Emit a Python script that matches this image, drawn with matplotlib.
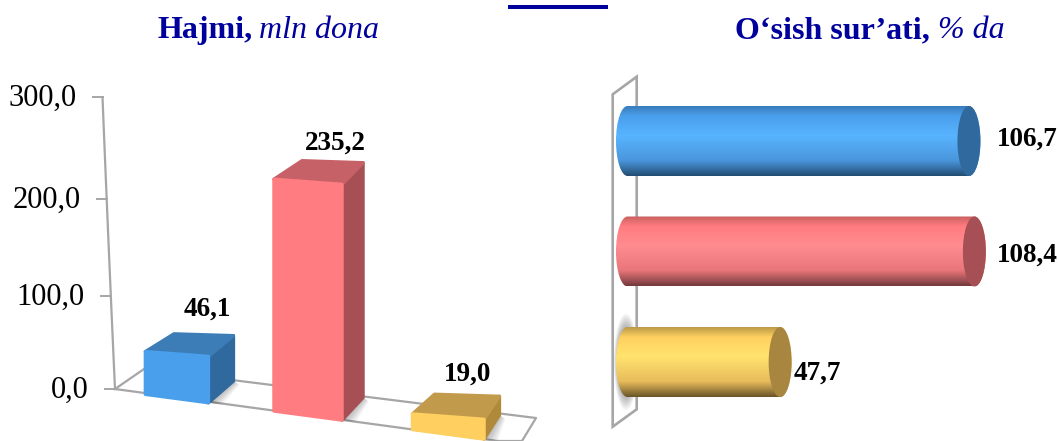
import numpy as np
import matplotlib
matplotlib.use('Agg')
from matplotlib import pyplot as plt
from matplotlib.colors import LinearSegmentedColormap
from matplotlib.patches import Ellipse, PathPatch, Polygon
from matplotlib.path import Path

# Values
volume_values = [46.1, 235.2, 19.0]
volume_labels = ['46,1', '235,2', '19,0']
volume_ticks = [0, 100, 200, 300]
volume_tick_labels = ['0,0', '100,0', '200,0', '300,0']
growth_values = [106.7, 108.4, 47.7]
growth_labels = ['106,7', '108,4', '47,7']

W, H = 1059, 441
SERIF = 'Liberation Serif'
NAVY = '#00009C'
FRAME = '#A6A6A6'

face_colors = ['#4A9FEC', '#FF7C80', '#FFD060']
side_colors = ['#30699E', '#A64F54', '#B08A3A']
top_colors = ['#3C7DB8', '#C66167', '#C29A4C']
tube_stops = [['#3A7DBC', '#4A9FEC', '#58B4FF', '#4A96DC', '#234E73'],
              ['#C9605F', '#FF7C80', '#FF8C90', '#E8767A', '#74393C'],
              ['#BC9A48', '#FFD060', '#FFE36E', '#E8BC5C', '#6A5528']]
end_colors = ['#30699E', '#A64F54', '#A98640']

fig = plt.figure(figsize=(W / 100, H / 100), dpi=100)

# Background layer in pixels: frames, titles, rule
ax0 = fig.add_axes([0, 0, 1, 1])
ax0.set_xlim(0, W)
ax0.set_ylim(H, 0)
ax0.axis('off')

ax0.add_patch(plt.Rectangle((508, 5), 100, 4, fc=NAVY, ec='none'))
ax0.text(157, 38, 'Hajmi,', family=SERIF, size=23, weight='bold', color=NAVY)
ax0.text(259, 38, 'mln dona', family=SERIF, size=23, style='italic', color=NAVY)
ax0.text(735, 38, 'O\u2018sish sur\u2019ati,', family=SERIF, size=23, weight='bold', color=NAVY)
ax0.text(938, 38, '% da', family=SERIF, size=23, style='italic', color=NAVY)

# Left chart: value axis, one unit is one pixel on the front of the bars
ax1 = fig.add_axes([0, 0, 600 / W, 1], zorder=2)
ax1.set_xlim(0, 600)
ax1.set_ylim(-(H - 389), 389)
ax1.axis('off')
ax1.patch.set_alpha(0)


# The wall is further back and in perspective, so its ticks spread out going up
def wall_y(v):
    return 0.908 * v + 2.17e-4 * v ** 2


def wall_x(v):
    return 115 - v * 12.5 / 300


wall = np.linspace(0, 300, 31)
ax1.plot(wall_x(wall), wall_y(wall), c=FRAME, lw=1.6)
for v, lab in zip(volume_ticks, volume_tick_labels):
    ax1.plot([wall_x(v) - 10, wall_x(v)], [wall_y(v), wall_y(v)], c=FRAME, lw=1.4)
    ax1.text(wall_x(v) - 26, wall_y(v) - 1.5, lab, family=SERIF, size=22,
             ha='right', va='center', color='black')

# Floor, in y units below the zero line
floor = [(115, 0), (144, 20), (536, 389 - 418), (522, 389 - 441), (497.5, 389 - 441), (115, 0)]
ax1.plot(*zip(*floor), c=FRAME, lw=1.6)

bar_left = [145.4, 274.0, 412.5]
bar_width = [63, 68, 71.5]
bar_base = [-5.3, -22.0, -40.5]
side_dx = [25, 21, 15.4]
side_dy = [21.7, 22.6, 24]
top_dx = [28.6, 28, 22]
label_pos = [(207, 80), (335, 246), (468, 15)]

for i, v in enumerate(volume_values):
    x0, w, b = bar_left[i], bar_width[i], bar_base[i]
    h = v - 3.5
    slope = 0.133
    bl = (x0, b)
    br = (x0 + w, b - w * slope)
    tl = (x0, b + h)
    tr = (x0 + w, b + h - w * 0.075)
    sbr = (br[0] + side_dx[i], br[1] + side_dy[i])
    str_ = (tr[0] + side_dx[i], tr[1] + side_dy[i] - 1)
    tbl = (x0 + top_dx[i], tl[1] + side_dy[i] * 0.82)

    # soft shadow on the floor beside the bar
    for k in np.linspace(1.0, 0.2, 8):
        ax1.add_patch(Polygon([br, sbr, (sbr[0] + 6 * k, sbr[1] - 4 * k), (br[0] + 14 * k, br[1] - 2 * k)],
                              fc='black', ec='none', alpha=0.035, zorder=2))
    ax1.add_patch(Polygon([br, sbr, str_, tr], fc=side_colors[i], ec=side_colors[i], lw=2.5,
                          joinstyle='round', zorder=3))
    ax1.add_patch(Polygon([tl, tr, str_, tbl], fc=top_colors[i], ec=top_colors[i], lw=2.5,
                          joinstyle='round', zorder=3))
    ax1.add_patch(Polygon([bl, br, tr, tl], fc=face_colors[i], ec=face_colors[i], lw=2.5,
                          joinstyle='round', zorder=4))
    ax1.text(label_pos[i][0], label_pos[i][1], volume_labels[i], family=SERIF, size=19.5,
             weight='bold', ha='center', va='center', color='black', zorder=5)

# Right chart: one axes with categories on y
PX_PER_UNIT = 3.2
BASE_PX = 627.5
ROW_PX = 110.5
FIRST_ROW_PX = 141
ax2 = fig.add_axes([600 / W, 0, (W - 600) / W, 1], zorder=2)
ax2.axis('off')
ax2.patch.set_alpha(0)

# Back plate the tubes start from
ax0.add_patch(Polygon([(612.7, 94.3), (636.7, 76.7), (636.7, 409.3), (612.7, 426.7)],
                      fc='white', ec=FRAME, lw=1.9, joinstyle='miter'))
# blurred shadow behind the short tube
for k in np.linspace(1.0, 0.55, 10):
    ax0.add_patch(Ellipse((626, 362), 24 * k, 96 * k, fc='black', ec='none', alpha=0.05))

tube_h = 70 / ROW_PX
cap_w = 23 / PX_PER_UNIT
K = 0.5523

for i, v in enumerate(growth_values):
    top, bot = i - tube_h / 2, i + tube_h / 2
    rx, ry = cap_w / 2, tube_h / 2
    # outline: straight sides, elliptic ends
    verts = [(0, top), (v, top),
             (v + rx * K, top), (v + rx, i - ry * K), (v + rx, i),
             (v + rx, i + ry * K), (v + rx * K, bot), (v, bot),
             (0, bot),
             (-rx * K, bot), (-rx, i + ry * K), (-rx, i),
             (-rx, i - ry * K), (-rx * K, top), (0, top), (0, top)]
    codes = [Path.MOVETO, Path.LINETO,
             Path.CURVE4, Path.CURVE4, Path.CURVE4,
             Path.CURVE4, Path.CURVE4, Path.CURVE4,
             Path.LINETO,
             Path.CURVE4, Path.CURVE4, Path.CURVE4,
             Path.CURVE4, Path.CURVE4, Path.CURVE4, Path.CLOSEPOLY]
    outline = PathPatch(Path(verts, codes), fc='none', ec='none', transform=ax2.transData)
    ax2.add_patch(outline)

    cmap = LinearSegmentedColormap.from_list('tube', list(zip([0, 0.14, 0.42, 0.78, 1], tube_stops[i])))
    grad = np.linspace(0, 1, 128).reshape(-1, 1)
    im = ax2.imshow(grad, cmap=cmap, aspect='auto', extent=(-rx - 1, v + rx + 1, bot, top),
                    interpolation='bilinear', zorder=3)
    im.set_clip_path(outline)

    ax2.add_patch(Ellipse((v, i), cap_w, tube_h, fc=end_colors[i], ec='none', zorder=4))

label_x = [1027, 1027, 817]
label_y = [139, 255, 373]
for i, lab in enumerate(growth_labels):
    x = (label_x[i] - BASE_PX) / PX_PER_UNIT
    y = (label_y[i] - FIRST_ROW_PX) / ROW_PX
    ax2.text(x, y, lab, family=SERIF, size=19.5, weight='bold', ha='center', va='center',
             color='black', zorder=5)

# imshow moves the limits, so set them last
ax2.set_xlim((600 - BASE_PX) / PX_PER_UNIT, (W - BASE_PX) / PX_PER_UNIT)
ax2.set_ylim((H - FIRST_ROW_PX) / ROW_PX, -FIRST_ROW_PX / ROW_PX)

fig.savefig('out.png', dpi=100)
